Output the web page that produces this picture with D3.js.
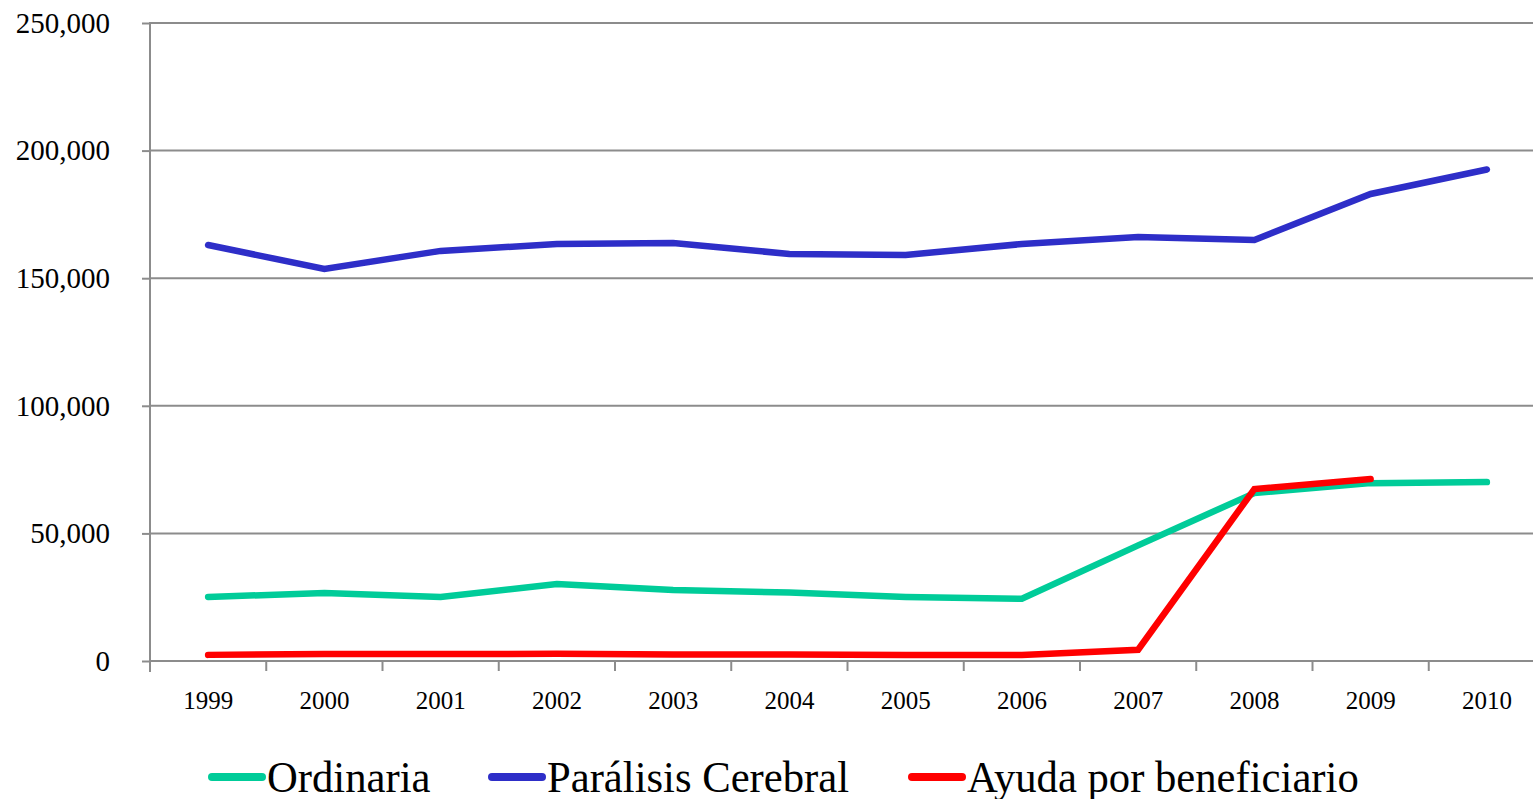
<!DOCTYPE html>
<html>
<head>
<meta charset="utf-8">
<script src="https://cdnjs.cloudflare.com/ajax/libs/d3/7.8.5/d3.min.js"></script>
<style>
  body { margin: 0; background: #fff; }
  svg { display: block; font-family: "Liberation Serif", "Times New Roman", serif; }
</style>
</head>
<body>
<svg id="chart" width="1533" height="799"></svg>
<script>
var years = ["1999", "2000", "2001", "2002", "2003", "2004", "2005", "2006", "2007", "2008", "2009", "2010"];
var ordinaria = [25100, 26600, 25100, 30200, 27800, 26800, 25100, 24400, 45300, 65800, 69700, 70100];
var paralisis = [163000, 153600, 160700, 163400, 163800, 159500, 159100, 163400, 166100, 165000, 183000, 192600];
var ayuda = [2400, 2700, 2700, 2800, 2500, 2500, 2400, 2400, 4400, 67400, 71300, null];
var seriesNames = ["Ordinaria", "Parálisis Cerebral", "Ayuda por beneficiario"];
var seriesColors = ["#00cc99", "#2e2ec8", "#ff0000"];
var yTicks = [0, 50000, 100000, 150000, 200000, 250000];

var svg = d3.select("#chart");
var plotLeft = 150, plotRight = 1545, plotTop = 23, plotBottom = 661;

var x = d3.scaleBand().domain(years).range([plotLeft, plotRight]);
var y = d3.scaleLinear().domain([0, 250000]).range([plotBottom, plotTop]);

var grey = "#8c8c8c";

// gridlines
svg.append("g")
  .selectAll("line")
  .data(yTicks.filter(function(d) { return d > 0; }))
  .enter().append("line")
  .attr("x1", plotLeft).attr("x2", 1533)
  .attr("y1", function(d) { return y(d); })
  .attr("y2", function(d) { return y(d); })
  .attr("stroke", grey).attr("stroke-width", 2);

// y axis
var yAxis = svg.append("g")
  .attr("transform", "translate(" + plotLeft + ",0)")
  .call(d3.axisLeft(y).tickValues(yTicks).tickSize(8).tickPadding(32)
    .tickFormat(d3.format(",")));
yAxis.select(".domain").remove();
yAxis.selectAll(".tick line").attr("stroke", grey).attr("stroke-width", 2);
yAxis.selectAll(".tick text").attr("font-size", 29).attr("fill", "#000")
  .attr("font-family", "Liberation Serif, serif");
svg.append("line")
  .attr("x1", plotLeft).attr("x2", plotLeft).attr("y1", plotTop - 1).attr("y2", plotBottom + 11)
  .attr("stroke", grey).attr("stroke-width", 2);

// x axis
var xAxis = svg.append("g")
  .attr("transform", "translate(0," + plotBottom + ")")
  .call(d3.axisBottom(x).tickSize(0).tickPadding(30));
xAxis.select(".domain").remove();
xAxis.selectAll(".tick text").attr("font-size", 25).attr("fill", "#000")
  .attr("font-family", "Liberation Serif, serif");
svg.append("line")
  .attr("x1", plotLeft).attr("x2", 1533).attr("y1", plotBottom).attr("y2", plotBottom)
  .attr("stroke", grey).attr("stroke-width", 2);
svg.append("g")
  .selectAll("line")
  .data(years.slice(1))
  .enter().append("line")
  .attr("x1", function(d) { return x(d); })
  .attr("x2", function(d) { return x(d); })
  .attr("y1", plotBottom).attr("y2", plotBottom + 10)
  .attr("stroke", grey).attr("stroke-width", 2);

// lines
var line = d3.line()
  .defined(function(d) { return d != null; })
  .x(function(d, i) { return x(years[i]) + x.bandwidth() / 2; })
  .y(function(d) { return y(d); });

[ordinaria, paralisis, ayuda].forEach(function(s, i) {
  svg.append("path")
    .datum(s)
    .attr("d", line)
    .attr("fill", "none")
    .attr("stroke", seriesColors[i])
    .attr("stroke-width", 6.5)
    .attr("stroke-linecap", "round")
    .attr("stroke-linejoin", "miter");
});

// legend
var legendX = [212, 492, 912];
var lg = svg.append("g");
seriesNames.forEach(function(name, i) {
  lg.append("line")
    .attr("x1", legendX[i]).attr("x2", legendX[i] + 50)
    .attr("y1", 777).attr("y2", 777)
    .attr("stroke", seriesColors[i]).attr("stroke-width", 8)
    .attr("stroke-linecap", "round");
  lg.append("text")
    .attr("x", legendX[i] + 55).attr("y", 792)
    .attr("font-size", 44)
    .attr("fill", "#000")
    .attr("transform", "translate(" + (legendX[i] + 55) + ",0) scale(0.97,1) translate(" + (-(legendX[i] + 55)) + ",0)")
    .text(name);
});
</script>
</body>
</html>
